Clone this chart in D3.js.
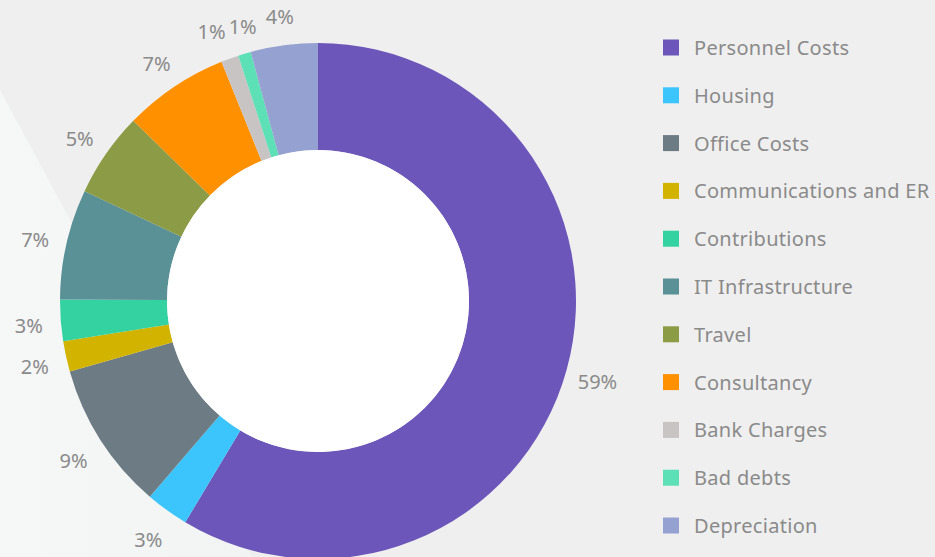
<!DOCTYPE html>
<html>
<head>
<meta charset="utf-8">
<script src="https://cdn.jsdelivr.net/npm/d3@7/dist/d3.min.js"></script>
<style>
  html, body { margin: 0; padding: 0; background: #efefef; }
  svg { display: block; }
  text { font-family: "Noto Sans", "Open Sans", sans-serif; }
</style>
</head>
<body>
<svg id="chart" width="935" height="557"></svg>
<script>
const categories = ["Personnel Costs", "Housing", "Office Costs", "Communications and ER",
  "Contributions", "IT Infrastructure", "Travel", "Consultancy", "Bank Charges", "Bad debts", "Depreciation"];
const values = [58.6, 2.7, 9.3, 1.9, 2.6, 6.9, 5.3, 6.6, 1.1, 0.8, 4.2];
const colors = ["#6c56b9", "#3cc5fc", "#6c7b84", "#d2b400", "#33d2a0", "#5a9196",
  "#8c9b45", "#ff9100", "#c8c4c4", "#5de0b5", "#95a2d1"];

const svg = d3.select("#chart");
const W = 935, H = 557;

// background with lighter diagonal region
const defs = svg.append("defs");
const grad = defs.append("linearGradient").attr("id", "bgl")
  .attr("x1", "0").attr("y1", "0").attr("x2", "1").attr("y2", "0");
grad.append("stop").attr("offset", "0").attr("stop-color", "#f6f7f7");
grad.append("stop").attr("offset", "1").attr("stop-color", "#f2f3f3");
svg.append("rect").attr("width", W).attr("height", H).attr("fill", "#efefef");
svg.append("path").attr("d", "M0,90 L252,557 L0,557 Z").attr("fill", "url(#bgl)");

const cx = 318, cy = 301, rOuter = 258, rInner = 151, rLabel = 290;
const total = d3.sum(values);
const data = categories.map((c, i) => ({ name: c, value: values[i], color: colors[i] }));

const pie = d3.pie().value(d => d.value).sort(null);
const arcs = pie(data);
const arc = d3.arc().innerRadius(rInner).outerRadius(rOuter);

const g = svg.append("g").attr("transform", `translate(${cx},${cy})`);
g.selectAll("path.slice").data(arcs).join("path")
  .attr("class", "slice")
  .attr("d", arc)
  .attr("fill", d => d.data.color);

g.append("circle").attr("r", rInner).attr("fill", "#ffffff");

const labelArc = d3.arc().innerRadius(rLabel).outerRadius(rLabel);
const labels = g.selectAll("text.lbl").data(arcs).join("text")
  .attr("class", "lbl")
  .attr("text-anchor", "middle")
  .attr("dominant-baseline", "central")
  .attr("font-size", 20)
  .attr("fill", "#8a8a8a")
  .text(d => Math.round(d.data.value / total * 100) + "%");

// initial positions, then simple horizontal de-overlap
const pos = arcs.map(d => { const [x, y] = labelArc.centroid(d); return { x, y: y + 3 }; });
const widths = labels.nodes().map(n => n.getComputedTextLength());
for (let iter = 0; iter < 50; iter++) {
  for (let i = 0; i < pos.length; i++) {
    for (let j = i + 1; j < pos.length; j++) {
      const a = pos[i], b = pos[j];
      const minDx = (widths[i] + widths[j]) / 2 + 3;
      if (Math.abs(a.y - b.y) < 18 && Math.abs(a.x - b.x) < minDx) {
        const push = (minDx - Math.abs(a.x - b.x)) / 2;
        const s = a.x < b.x ? -1 : 1;
        a.x += s * push; b.x -= s * push;
      }
    }
  }
}
labels.attr("transform", (d, i) => `translate(${pos[i].x},${pos[i].y})`);

// legend
const legend = svg.append("g").attr("transform", "translate(663,47.5)");
const rowH = 47.8;
const items = legend.selectAll("g").data(data).join("g")
  .attr("transform", (d, i) => `translate(0,${i * rowH})`);
items.append("rect").attr("x", 0).attr("y", -8).attr("width", 16).attr("height", 16)
  .attr("fill", d => d.color);
items.append("text").attr("x", 31).attr("y", 0)
  .attr("dominant-baseline", "central")
  .attr("font-size", 20)
  .attr("letter-spacing", 0.3)
  .attr("fill", "#8a8a8a")
  .text(d => d.name);
</script>
</body>
</html>
